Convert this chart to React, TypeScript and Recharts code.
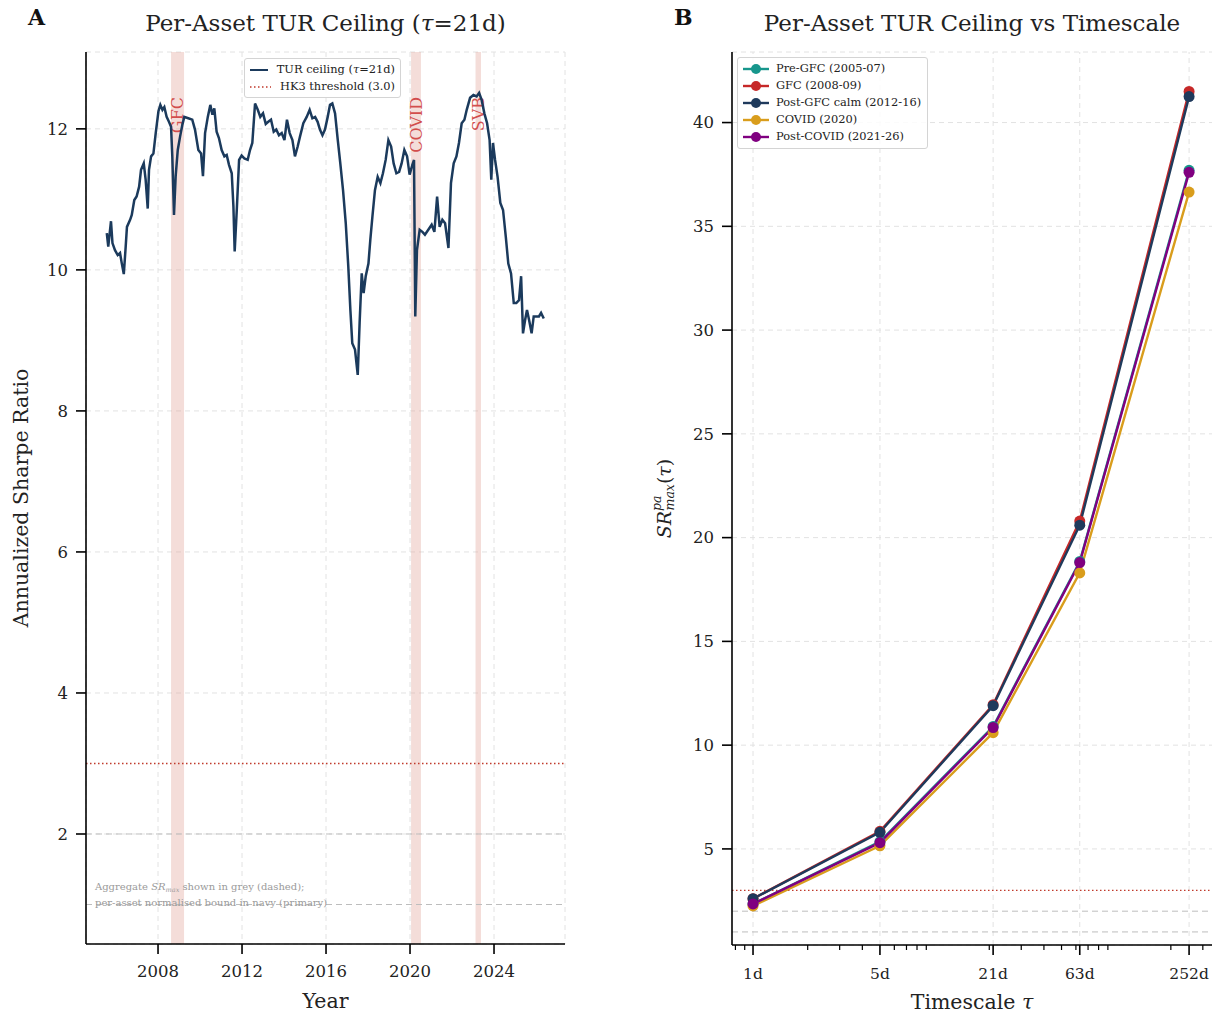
import React from "react";
import {
  CartesianGrid,
  Line,
  LineChart,
  ReferenceArea,
  ReferenceLine,
  XAxis,
  YAxis,
} from "recharts";

const FONT = "'DejaVu Serif', serif";

// Panel A: per-asset TUR ceiling, tau = 21d
const years = [
  2005.56, 2005.63, 2005.76, 2005.83, 2005.95, 2006.08, 2006.19, 2006.27, 2006.37, 2006.46,
  2006.52, 2006.67, 2006.75, 2006.87, 2006.98, 2007.1, 2007.19, 2007.32, 2007.41, 2007.51,
  2007.57, 2007.67, 2007.78, 2007.89, 2008.02, 2008.11, 2008.21, 2008.3, 2008.41, 2008.52,
  2008.62, 2008.68, 2008.76, 2008.84, 2008.94, 2009.05, 2009.16, 2009.25, 2009.44, 2009.63,
  2009.76, 2009.92, 2010.05, 2010.14, 2010.24, 2010.37, 2010.49, 2010.59, 2010.68, 2010.79,
  2010.9, 2011.03, 2011.16, 2011.27, 2011.38, 2011.51, 2011.59, 2011.65, 2011.75, 2011.86,
  2011.98, 2012.11, 2012.27, 2012.38, 2012.49, 2012.62, 2012.75, 2012.87, 2013.0, 2013.13,
  2013.25, 2013.38, 2013.51, 2013.63, 2013.76, 2013.89, 2014.02, 2014.14, 2014.27, 2014.4,
  2014.52, 2014.65, 2014.76, 2014.92, 2015.08, 2015.22, 2015.35, 2015.48, 2015.6, 2015.71,
  2015.83, 2015.95, 2016.08, 2016.19, 2016.3, 2016.43, 2016.56, 2016.68, 2016.81, 2016.94,
  2017.06, 2017.16, 2017.25, 2017.38, 2017.51, 2017.6, 2017.7, 2017.79, 2017.89, 2018.02,
  2018.11, 2018.21, 2018.33, 2018.46, 2018.59, 2018.71, 2018.84, 2018.97, 2019.1, 2019.22,
  2019.35, 2019.48, 2019.6, 2019.73, 2019.86, 2019.98, 2020.11, 2020.19, 2020.25, 2020.33,
  2020.46, 2020.59, 2020.71, 2020.87, 2021.03, 2021.16, 2021.29, 2021.41, 2021.54, 2021.67,
  2021.83, 2021.95, 2022.08, 2022.21, 2022.33, 2022.46, 2022.59, 2022.7, 2022.86, 2023.02,
  2023.17, 2023.29, 2023.41, 2023.54, 2023.67, 2023.79, 2023.87, 2023.95, 2024.05, 2024.17,
  2024.3, 2024.43, 2024.56, 2024.68, 2024.81, 2024.94, 2025.06, 2025.19, 2025.29, 2025.38,
  2025.48, 2025.57, 2025.67, 2025.79, 2025.89, 2026.02, 2026.14, 2026.24, 2026.37,
];
const turCeiling = [
  10.52, 10.33, 10.69, 10.38, 10.28, 10.21, 10.24, 10.1, 9.94, 10.33,
  10.61, 10.71, 10.78, 10.99, 11.04, 11.18, 11.42, 11.51, 11.28, 10.87,
  11.42, 11.61, 11.65, 11.94, 12.25, 12.34, 12.27, 12.31, 12.17, 12.1,
  12.03, 11.61, 10.78, 11.33, 11.7, 11.89, 12.06, 12.17, 12.15, 12.13,
  11.99, 11.7, 11.65, 11.33, 11.94, 12.17, 12.34, 12.2, 12.29, 11.96,
  11.87, 11.7, 11.61, 11.63, 11.49, 11.37, 10.9, 10.26, 10.85, 11.56,
  11.62, 11.58, 11.56, 11.7, 11.8, 12.36, 12.27, 12.17, 12.22, 12.07,
  12.1, 12.13, 11.96, 11.99, 11.91, 11.94, 11.84, 12.13, 11.94, 11.84,
  11.61, 11.75, 11.89, 12.08, 12.17, 12.27, 12.15, 12.17, 12.1, 11.99,
  11.91, 11.99, 12.17, 12.34, 12.36, 12.22, 11.84, 11.51, 11.13, 10.66,
  10.05, 9.43, 8.96, 8.87, 8.51, 9.25, 9.95, 9.67, 9.91, 10.09,
  10.43, 10.76, 11.13, 11.32, 11.23, 11.37, 11.56, 11.84, 11.75, 11.51,
  11.37, 11.39, 11.51, 11.7, 11.61, 11.35, 11.49, 11.56, 9.34, 10.28,
  10.57, 10.54, 10.5, 10.57, 10.64, 10.54, 11.04, 10.61, 10.71, 10.66,
  10.31, 11.23, 11.51, 11.61, 11.8, 12.08, 12.13, 12.27, 12.44, 12.48,
  12.46, 12.51, 12.41, 12.22, 12.08, 11.84, 11.28, 11.8, 11.56, 11.32,
  10.95, 10.85, 10.47, 10.09, 9.95, 9.53, 9.53, 9.57, 9.91, 9.1,
  9.29, 9.43, 9.29, 9.1, 9.34, 9.34, 9.34, 9.39, 9.31,
];
const yearTicks = [2008, 2012, 2016, 2020, 2024];
const sharpeTicks = [2, 4, 6, 8, 10, 12];
const eventNames = ["GFC", "COVID", "SVB"];
const eventStart = [2008.62, 2020.05, 2023.12];
const eventEnd = [2009.24, 2020.52, 2023.38];
const hk3Threshold = 3.0;
const aggregateLevels = [2.0, 1.0];

// Panel B: ceiling vs timescale by regime
const taus = [1, 5, 21, 63, 252];
const tauLabels = ["1d", "5d", "21d", "63d", "252d"];
const tauMinor = [0.8, 0.9, 2, 3, 4, 6, 7, 8, 9, 20, 30, 40, 50, 60, 70, 80, 90, 200, 300];
const preGfc = [2.35, 5.35, 10.9, 18.85, 37.7];
const gfc = [2.6, 5.85, 11.95, 20.8, 41.5];
const postGfcCalm = [2.6, 5.8, 11.9, 20.6, 41.25];
const covid = [2.25, 5.15, 10.6, 18.3, 36.65];
const postCovid = [2.35, 5.3, 10.85, 18.8, 37.6];
const ceilingTicks = [5, 10, 15, 20, 25, 30, 35, 40];

const regimes = [
  { key: "preGfc", name: "Pre-GFC (2005-07)", color: "#17968c", values: preGfc },
  { key: "gfc", name: "GFC (2008-09)", color: "#c62828", values: gfc },
  { key: "postGfc", name: "Post-GFC calm (2012-16)", color: "#1f3a5c", values: postGfcCalm },
  { key: "covid", name: "COVID (2020)", color: "#d99d1c", values: covid },
  { key: "postCovid", name: "Post-COVID (2021-26)", color: "#800080", values: postCovid },
];

const seriesA = years.map((y, i) => ({ year: y, tur: turCeiling[i] }));
const seriesB = taus.map((t, i) => {
  const row: Record<string, number> = { tau: t };
  regimes.forEach((r) => (row[r.key] = r.values[i]));
  return row;
});

const NAVY = "#1b3a5c";
const RED = "#c0392b";
const GRID = "#e2e2e2";

const tickStyle = { fill: "#222", fontSize: 16.5, fontFamily: FONT };

function EventLabel(props: any) {
  const { viewBox, text } = props;
  if (!viewBox) return null;
  const x = viewBox.x + viewBox.width / 2;
  const y = viewBox.y + 45;
  return (
    <text
      x={x}
      y={y}
      transform={`rotate(-90 ${x} ${y})`}
      textAnchor="end"
      dominantBaseline="central"
      fontSize={16}
      fontFamily={FONT}
      fill="#cc3333"
      fillOpacity={0.85}
    >
      {text}
    </text>
  );
}

function YLabelA(props: any) {
  const { viewBox } = props;
  const x = viewBox.x + 21;
  const y = viewBox.y + viewBox.height / 2;
  return (
    <text x={x} y={y} transform={`rotate(-90 ${x} ${y})`} textAnchor="middle" dominantBaseline="central"
      fontSize={20.5} fontFamily={FONT} fill="#222">
      Annualized Sharpe Ratio
    </text>
  );
}

function YLabelB(props: any) {
  const { viewBox } = props;
  const x = viewBox.x + 24;
  const y = viewBox.y + viewBox.height / 2;
  return (
    <text x={x} y={y} transform={`rotate(-90 ${x} ${y})`} textAnchor="middle" dominantBaseline="central"
      fontSize={19} fontFamily={FONT} fill="#222">
      <tspan fontStyle="italic">SR</tspan>
      <tspan fontStyle="italic" fontSize={12.5} dy={-8}>pa</tspan>
      <tspan fontStyle="italic" fontSize={12.5} dx={-15} dy={13}>max</tspan>
      <tspan dy={-5}>(</tspan>
      <tspan fontStyle="italic">τ</tspan>
      <tspan>)</tspan>
    </text>
  );
}

function XLabel(props: any) {
  const { viewBox, children } = props;
  const x = viewBox.x + viewBox.width / 2;
  const y = viewBox.y + 57;
  return (
    <text x={x} y={y} textAnchor="middle" dominantBaseline="central" fontSize={20.5} fontFamily={FONT} fill="#222">
      {children}
    </text>
  );
}

function TauTick(props: any) {
  const { x, y, payload } = props;
  const i = taus.indexOf(payload.value);
  const major = i >= 0;
  return (
    <g>
      <line x1={x} x2={x} y1={y} y2={y + (major ? 10 : 5)} stroke="#000" strokeWidth={major ? 1.6 : 1.2} />
      {major && (
        <text x={x} y={y + 34} textAnchor="middle" fontSize={15.5} fontFamily={FONT} fill="#222">
          {tauLabels[i]}
        </text>
      )}
    </g>
  );
}

const legendBox: React.CSSProperties = {
  position: "absolute",
  background: "rgba(255,255,255,0.85)",
  border: "1px solid #d4d4d4",
  borderRadius: 3,
  fontFamily: FONT,
  fontSize: 11.4,
  color: "#222",
  lineHeight: "17px",
  padding: "2px 5px",
  boxSizing: "border-box",
  whiteSpace: "nowrap",
};

function PanelTitle({ left, width, letter, children }: any) {
  return (
    <>
      <div style={{ position: "absolute", left: left - 2, top: 4, fontFamily: FONT, fontWeight: "bold", fontSize: 22, color: "#111" }}>
        {letter}
      </div>
      <div style={{ position: "absolute", left: left + 56, width, top: 10, textAlign: "center", fontFamily: FONT, fontSize: 23, color: "#222" }}>
        {children}
      </div>
    </>
  );
}

export default function App() {
  return (
    <div style={{ position: "absolute", left: 0, top: 0, width: 1215, height: 1017, background: "#fff" }}>
      <PanelTitle left={30} width={479} letter="A">
        Per-Asset TUR Ceiling (<i>τ</i>=21d)
      </PanelTitle>

      <div style={{ position: "absolute", left: 0, top: 0 }}>
        <LineChart width={600} height={1017} data={seriesA} margin={{ top: 52, right: 35, left: 0, bottom: 0 }}>
          <CartesianGrid stroke={GRID} strokeDasharray="5 4" />
          <XAxis
            dataKey="year"
            type="number"
            domain={[2004.57, 2027.38]}
            ticks={yearTicks}
            allowDataOverflow
            height={73}
            tick={tickStyle}
            tickSize={10}
            tickMargin={11}
            tickLine={{ stroke: "#000", strokeWidth: 1.6 }}
            axisLine={{ stroke: "#000", strokeWidth: 1.6 }}
            label={<XLabel>Year</XLabel>}
          />
          <YAxis
            type="number"
            domain={[0.44, 13.09]}
            ticks={sharpeTicks}
            allowDataOverflow
            width={86}
            tick={tickStyle}
            tickSize={10}
            tickMargin={8}
            tickLine={{ stroke: "#000", strokeWidth: 1.6 }}
            axisLine={{ stroke: "#000", strokeWidth: 1.6 }}
            label={<YLabelA />}
          />
          {eventNames.map((n, i) => (
            <ReferenceArea
              key={n}
              x1={eventStart[i]}
              x2={eventEnd[i]}
              fill="#e3a59b"
              fillOpacity={0.38}
              stroke="none"
              label={<EventLabel text={n} />}
            />
          ))}
          {aggregateLevels.map((v) => (
            <ReferenceLine key={v} y={v} stroke="#bdbdbd" strokeDasharray="6 4" strokeWidth={1} />
          ))}
          <ReferenceLine y={hk3Threshold} stroke={RED} strokeDasharray="1.5 2.5" strokeWidth={1.3} />
          <Line
            dataKey="tur"
            stroke={NAVY}
            strokeWidth={2.5}
            dot={false}
            type="linear"
            isAnimationActive={false}
          />
        </LineChart>
      </div>

      <div style={{ ...legendBox, left: 244, top: 58, width: 157, height: 40 }}>
        <div style={{ display: "flex", alignItems: "center" }}>
          <svg width={26} height={10} style={{ marginRight: 9 }}>
            <line x1={0} x2={26} y1={5} y2={5} stroke={NAVY} strokeWidth={2} />
          </svg>
          TUR ceiling (<i>τ</i>=21d)
        </div>
        <div style={{ display: "flex", alignItems: "center" }}>
          <svg width={26} height={10} style={{ marginRight: 9 }}>
            <line x1={0} x2={26} y1={5} y2={5} stroke={RED} strokeWidth={1.3} strokeDasharray="1.5 2.5" />
          </svg>
          HK3 threshold (3.0)
        </div>
      </div>

      <div style={{ position: "absolute", left: 95, top: 879, fontFamily: FONT, fontSize: 10, color: "#9a9a9a", lineHeight: "16px", whiteSpace: "nowrap" }}>
        <div style={{ height: 16 }}>
          Aggregate <i>SR</i>
          <span style={{ fontSize: 6.5, fontStyle: "italic", position: "relative", top: 2, lineHeight: 0 }}>max</span> shown in grey (dashed);
        </div>
        <div style={{ height: 16 }}>per-asset normalised bound in navy (primary)</div>
      </div>

      <PanelTitle left={676} width={480} letter="B">
        Per-Asset TUR Ceiling vs Timescale
      </PanelTitle>

      <div style={{ position: "absolute", left: 640, top: 0 }}>
        <LineChart width={575} height={1017} data={seriesB} margin={{ top: 52, right: 3, left: 0, bottom: 0 }}>
          <CartesianGrid stroke={GRID} strokeDasharray="5 4" vertical={false} />
          {taus.map((t) => (
            <ReferenceLine key={t} x={t} stroke={GRID} strokeDasharray="5 4" />
          ))}
          <XAxis
            dataKey="tau"
            type="number"
            scale="log"
            domain={[0.766, 337]}
            ticks={[...taus, ...tauMinor].sort((a, b) => a - b)}
            interval={0}
            allowDataOverflow
            height={72}
            tick={<TauTick />}
            tickSize={0}
            tickMargin={0}
            tickLine={false}
            axisLine={{ stroke: "#000", strokeWidth: 1.6 }}
            label={
              <XLabel>
                Timescale <tspan fontStyle="italic">τ</tspan>
              </XLabel>
            }
          />
          <YAxis
            type="number"
            domain={[0.37, 43.4]}
            ticks={ceilingTicks}
            allowDataOverflow
            width={92}
            tick={tickStyle}
            tickSize={10}
            tickMargin={8}
            tickLine={{ stroke: "#000", strokeWidth: 1.6 }}
            axisLine={{ stroke: "#000", strokeWidth: 1.6 }}
            label={<YLabelB />}
          />
          {aggregateLevels.map((v) => (
            <ReferenceLine key={v} y={v} stroke="#bdbdbd" strokeDasharray="6 4" strokeWidth={1} />
          ))}
          <ReferenceLine y={hk3Threshold} stroke={RED} strokeDasharray="1.5 2.5" strokeWidth={1.3} />
          {regimes.map((r) => (
            <Line
              key={r.key}
              dataKey={r.key}
              name={r.name}
              stroke={r.color}
              strokeWidth={2.4}
              type="linear"
              dot={{ r: 5.5, fill: r.color, stroke: r.color, strokeWidth: 0 }}
              isAnimationActive={false}
            />
          ))}
        </LineChart>
      </div>

      <div style={{ ...legendBox, left: 737, top: 57, width: 191, height: 92 }}>
        {regimes.map((r) => (
          <div key={r.key} style={{ display: "flex", alignItems: "center" }}>
            <svg width={26} height={12} style={{ marginRight: 7 }}>
              <line x1={0} x2={26} y1={6} y2={6} stroke={r.color} strokeWidth={2.4} />
              <circle cx={13} cy={6} r={5} fill={r.color} />
            </svg>
            {r.name}
          </div>
        ))}
      </div>
    </div>
  );
}
